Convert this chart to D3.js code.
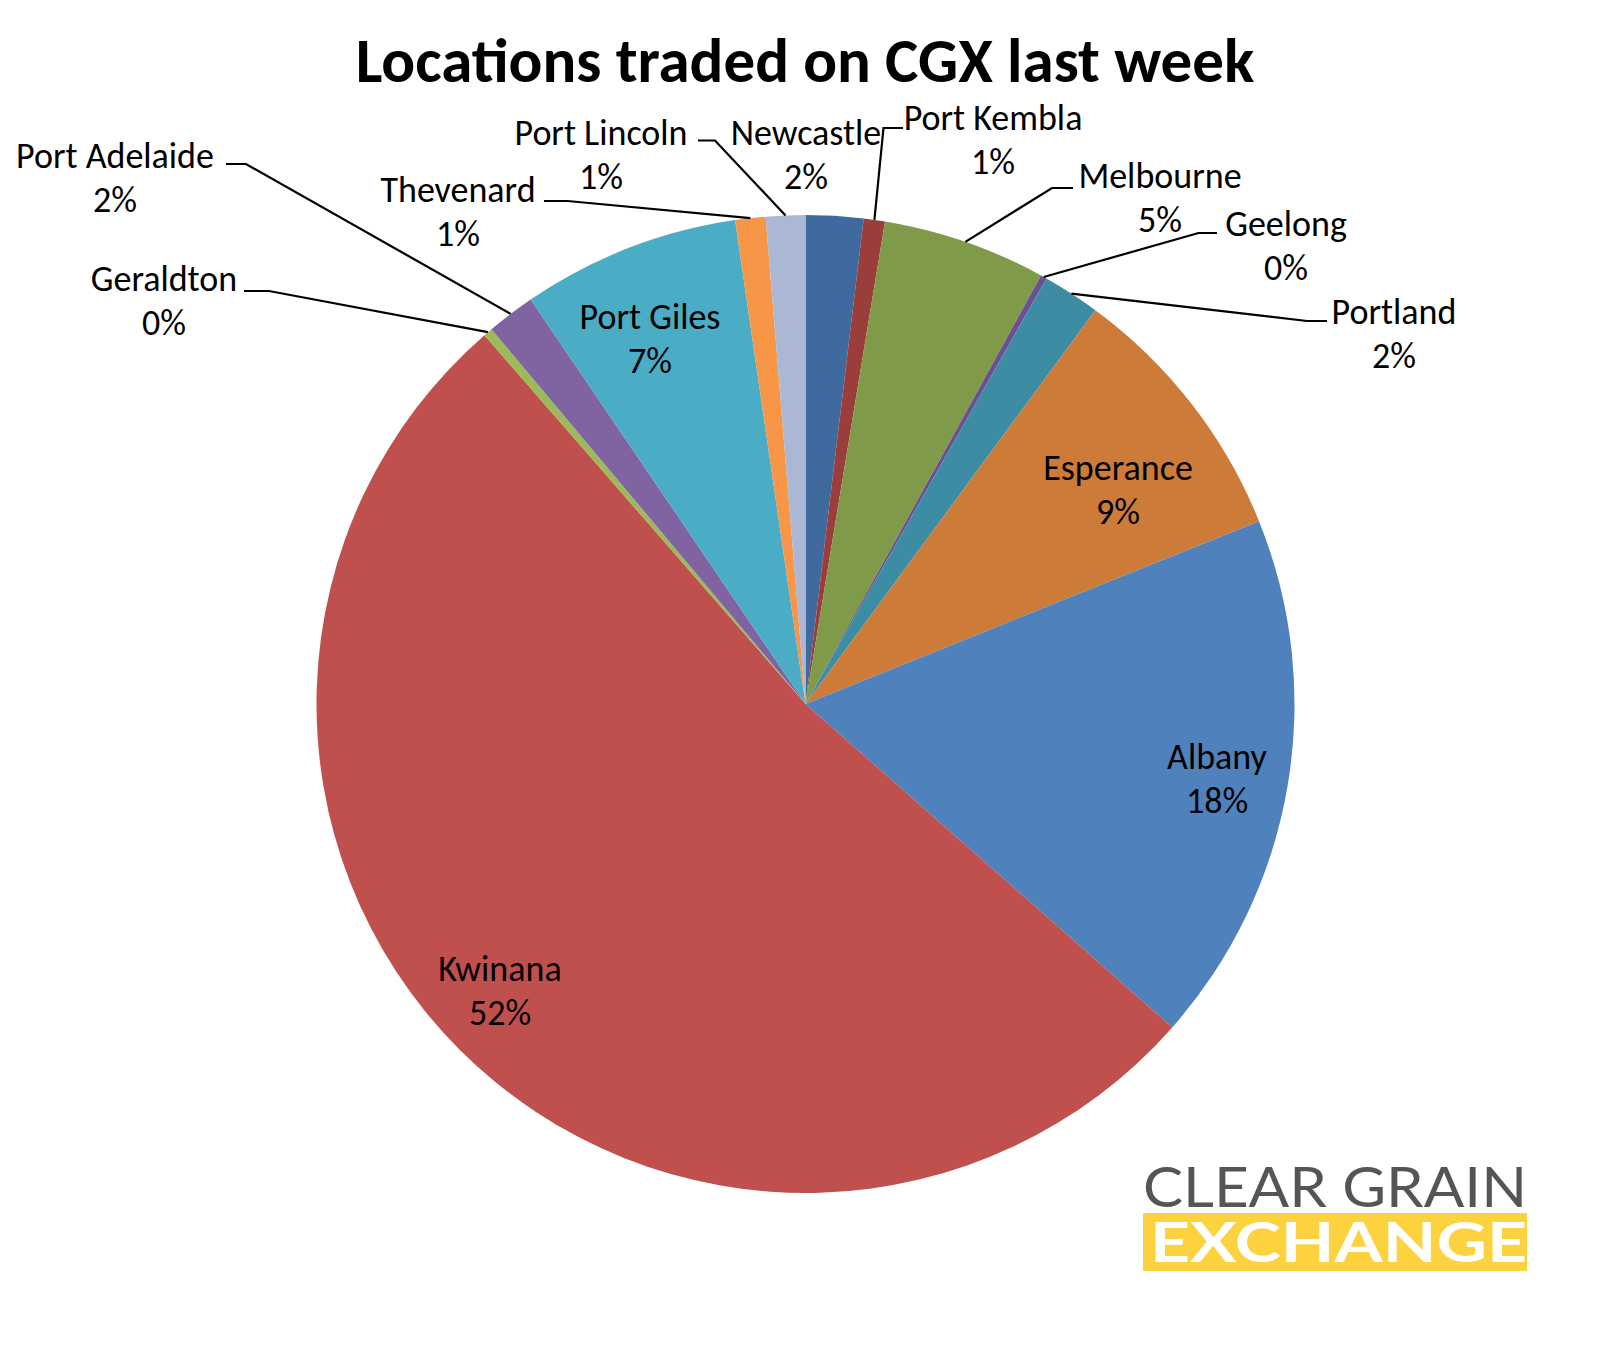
<!DOCTYPE html>
<html>
<head>
<meta charset="utf-8">
<script src="https://cdn.jsdelivr.net/npm/d3@7"></script>
<style>
  body { margin: 0; background: #fff; }
  svg text { font-family: Carlito, Calibri, Lato, sans-serif; }
</style>
</head>
<body>
<script>
"use strict";

// slices, clockwise from 12 o'clock
const locations = ["Newcastle", "Port Kembla", "Melbourne", "Geelong", "Portland", "Esperance",
    "Albany", "Kwinana", "Geraldton", "Port Adelaide", "Port Giles", "Thevenard", "Port Lincoln"]
const shares = [1.9, 0.7, 5.4, 0.2, 1.9, 8.8, 17.6, 52.1, 0.3, 1.6, 7.2, 1.0, 1.3]
const sliceColors = ["#3F6A9D", "#9B3D3A", "#7F9A48", "#6A5090", "#3C8DA3", "#CC7B38",
    "#4F81BD", "#C0504D", "#9BBB59", "#8064A2", "#4BACC6", "#F79646", "#AAB8D6"]

const measurements = {
    width: 1609,
    height: 1352,
    cx: 805.5,
    cy: 704,
    radius: 489,
    fontSize: 36,
    lineGap: 44
}

// label placement: text centre + leader elbow (null = no leader)
const labelLayout = {
    "Newcastle":     { x: 806,  y: 133, elbow: null },
    "Port Kembla":   { x: 993,  y: 118, elbow: [[903, 128], [883.5, 128]] },
    "Melbourne":     { x: 1160, y: 176, elbow: [[1073, 188], [1052, 188]] },
    "Geelong":       { x: 1286, y: 224, elbow: [[1217, 233], [1198.5, 233]] },
    "Portland":      { x: 1394, y: 312, elbow: [[1327, 321], [1307, 321]] },
    "Esperance":     { x: 1118, y: 468, elbow: null },
    "Albany":        { x: 1217, y: 757, elbow: null },
    "Kwinana":       { x: 500,  y: 969, elbow: null },
    "Geraldton":     { x: 164,  y: 279, elbow: [[244, 291], [269, 291]] },
    "Port Adelaide": { x: 115,  y: 156, elbow: [[226, 164], [246, 164]] },
    "Port Giles":    { x: 650,  y: 317, elbow: null },
    "Thevenard":     { x: 458,  y: 190, elbow: [[544, 201], [567.5, 201]] },
    "Port Lincoln":  { x: 601,  y: 133, elbow: [[698, 140.5], [715, 140.5]] }
}

const svgContainer = d3.select("body").append("svg")
    .attr("width", measurements.width)
    .attr("height", measurements.height)

const data = locations.map((name, i) => ({ name: name, value: shares[i], color: sliceColors[i] }))
const total = d3.sum(shares)
const pct = d3.format(".0f")

const pie = d3.pie()
    .sort(null)
    .value(d => d.value)
    .startAngle(0)
    .endAngle(2 * Math.PI)

const arc = d3.arc()
    .innerRadius(0)
    .outerRadius(measurements.radius)

// point on the rim at the middle of a slice
const rimArc = d3.arc()
    .innerRadius(measurements.radius)
    .outerRadius(measurements.radius)

const arcs = pie(data)

const pieG = svgContainer.append("g")
    .attr("transform", "translate(" + measurements.cx + "," + measurements.cy + ")")

pieG.selectAll("path.slice")
    .data(arcs)
    .enter()
    .append("path")
        .attr("class", "slice")
        .attr("d", arc)
        .attr("fill", d => d.data.color)

// leader lines
const leaders = arcs.filter(d => labelLayout[d.data.name].elbow)
svgContainer.selectAll("polyline.leader")
    .data(leaders)
    .enter()
    .append("polyline")
        .attr("class", "leader")
        .attr("fill", "none")
        .attr("stroke", "#000")
        .attr("stroke-width", 2.2)
        .attr("points", function(d) {
            const rim = rimArc.centroid(d)
            const pts = labelLayout[d.data.name].elbow.concat([[rim[0] + measurements.cx, rim[1] + measurements.cy]])
            return pts.map(p => p.join(",")).join(" ")
        })

// labels: name + percent
const labels = svgContainer.selectAll("g.label")
    .data(arcs)
    .enter()
    .append("g")
        .attr("class", "label")
        .attr("transform", d => "translate(" + labelLayout[d.data.name].x + "," + labelLayout[d.data.name].y + ")")

labels.append("text")
    .attr("text-anchor", "middle")
    .attr("y", 12)
    .style("font-size", measurements.fontSize + "px")
    .text(d => d.data.name)

labels.append("text")
    .attr("text-anchor", "middle")
    .attr("y", 12 + measurements.lineGap)
    .style("font-size", measurements.fontSize + "px")
    .text(d => pct(d.data.value / total * 100) + "%")

// title
svgContainer.append("text")
    .attr("x", 805)
    .attr("y", 82)
    .attr("text-anchor", "middle")
    .style("font-size", "63px")
    .style("font-weight", "bold")
    .text("Locations traded on CGX last week")

// logo
svgContainer.append("text")
    .attr("x", 1143)
    .attr("y", 1207)
    .attr("textLength", 384)
    .attr("lengthAdjust", "spacingAndGlyphs")
    .style("font-family", "Lato, sans-serif")
    .style("font-size", "57px")
    .style("fill", "#555555")
    .text("CLEAR GRAIN")

svgContainer.append("rect")
    .attr("x", 1143)
    .attr("y", 1213)
    .attr("width", 384)
    .attr("height", 58)
    .attr("fill", "#FCD33F")

svgContainer.append("text")
    .attr("x", 1150)
    .attr("y", 1262)
    .attr("textLength", 377)
    .attr("lengthAdjust", "spacingAndGlyphs")
    .style("font-family", "Lato, sans-serif")
    .style("font-size", "56px")
    .style("font-weight", "bold")
    .style("fill", "#FFFFFF")
    .text("EXCHANGE")
</script>
</body>
</html>
